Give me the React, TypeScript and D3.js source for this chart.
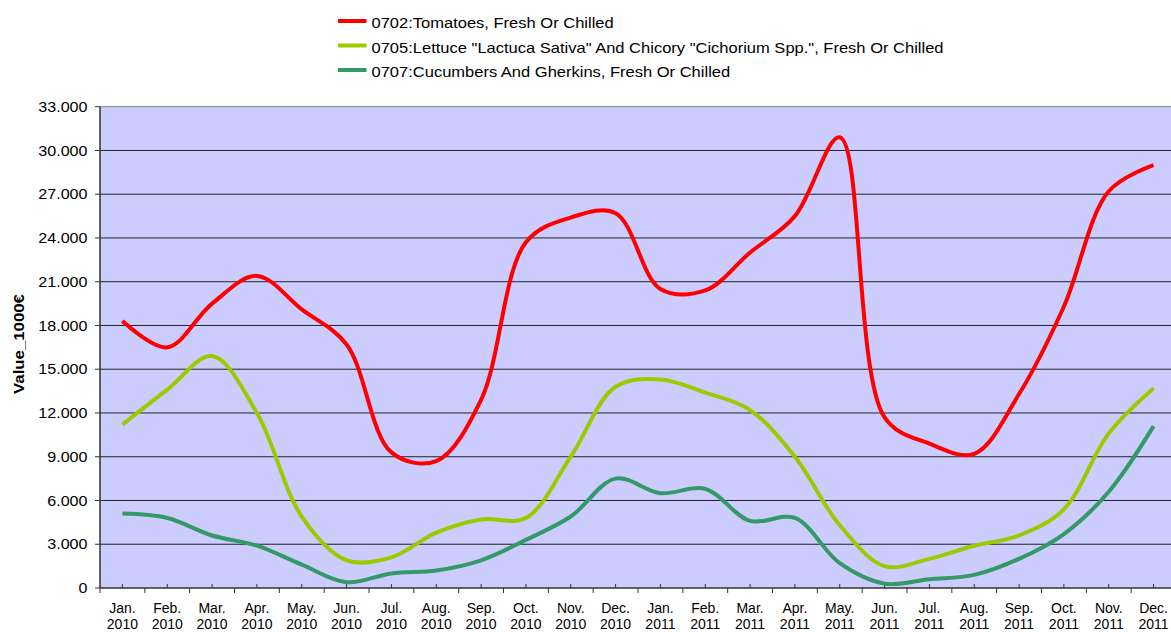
import React from "react"
import * as d3 from "d3"

const months = ["Jan.", "Feb.", "Mar.", "Apr.", "May.", "Jun.", "Jul.", "Aug.", "Sep.", "Oct.", "Nov.", "Dec."]
const years = ["2010", "2011"]
const categories = years.flatMap((y) => months.map((m) => `${m} ${y}`))

const tomatoes = [18300, 16500, 19500, 21400, 19100, 16700, 9300, 8700, 12900, 23700, 25400, 25700, 20500, 20400, 23000, 25500, 30900, 11700, 9900, 9200, 13300, 19300, 27200, 29000]
const lettuce = [11200, 13600, 15900, 12000, 4900, 1900, 2100, 3800, 4700, 4800, 9000, 13800, 14300, 13400, 12200, 9000, 4300, 1500, 2000, 2900, 3600, 5400, 10600, 13700]
const cucumbers = [5100, 4800, 3600, 2900, 1600, 400, 1000, 1200, 1900, 3300, 4900, 7500, 6500, 6800, 4600, 4800, 1700, 300, 600, 900, 2000, 3700, 6600, 11100]

const seriesNames = [
  "0702:Tomatoes, Fresh Or Chilled",
  "0705:Lettuce \"Lactuca Sativa\" And Chicory \"Cichorium Spp.\", Fresh Or Chilled",
  "0707:Cucumbers And Gherkins, Fresh Or Chilled",
]
const seriesColors = ["#ff0000", "#99cc00", "#339966"]
const yTicks = [0, 3000, 6000, 9000, 12000, 15000, 18000, 21000, 24000, 27000, 30000, 33000]

const W = 1171
const H = 632
const plot = { left: 100, right: 1176, top: 106.7, bottom: 588 }
const font = "'Liberation Sans', Arial, sans-serif"

const fmt = (v: number) => (v === 0 ? "0" : d3.format(",")(v).replace(/,/g, "."))

export default function App() {
  const x = d3.scaleBand<string>().domain(categories).range([plot.left, plot.right])
  const y = d3.scaleLinear().domain([0, 33000]).range([plot.bottom, plot.top])
  const cx = (i: number) => (x(categories[i]) || 0) + x.bandwidth() / 2

  const line = d3
    .line<number>()
    .x((_, i) => cx(i))
    .y((d) => y(d))
    .curve(d3.curveCatmullRom.alpha(0.5))

  const allSeries = [tomatoes, lettuce, cucumbers]

  return (
    <svg width={W} height={H} style={{ display: "block" }} fontFamily={font}>
      <style>{`body{margin:0}`}</style>
      <rect x={0} y={0} width={W} height={H} fill="#fff" />

      {/* legend */}
      {seriesNames.map((name, i) => (
        <g key={name} transform={`translate(338,${21 + i * 24.5})`}>
          <line x1={0} x2={28.5} y1={0} y2={0} stroke={seriesColors[i]} strokeWidth={4} />
          <g transform="translate(33.5,7.2) scale(1.18,1)">
            <text fontSize={14} fill="#000">
              {name}
            </text>
          </g>
        </g>
      ))}

      {/* plot area */}
      <rect x={plot.left} y={plot.top} width={plot.right - plot.left} height={plot.bottom - plot.top} fill="#ccccff" />
      {yTicks.map((t) => (
        <g key={t}>
          {t > 0 && (
            <line x1={plot.left} x2={plot.right} y1={y(t)} y2={y(t)} stroke={t === 33000 ? "#808080" : "#222"} strokeWidth={1} />
          )}
          <line x1={plot.left - 5} x2={plot.left} y1={y(t)} y2={y(t)} stroke="#333" />
          <g transform={`translate(${plot.left - 12.5},${y(t)}) scale(1.15,1)`}>
            <text dy="0.36em" textAnchor="end" fontSize={14} fill="#000">
              {fmt(t)}
            </text>
          </g>
        </g>
      ))}

      {/* axes */}
      <line x1={plot.left} x2={plot.left} y1={plot.top} y2={plot.bottom} stroke="#333" strokeWidth={1.5} />
      <line x1={plot.left} x2={plot.right} y1={plot.bottom} y2={plot.bottom} stroke="#333" strokeWidth={1.5} />
      {categories.map((c, i) => (
        <g key={c}>
          <line x1={x(c)} x2={x(c)} y1={plot.bottom} y2={plot.bottom + 5} stroke="#333" />
          <line x1={cx(i)} x2={cx(i)} y1={plot.bottom - 4} y2={plot.bottom} stroke="#333" />
          <text x={cx(i)} y={612.5} textAnchor="middle" fontSize={14} fill="#000">
            {c.split(" ")[0]}
          </text>
          <text x={cx(i)} y={628.5} textAnchor="middle" fontSize={14} fill="#000">
            {c.split(" ")[1]}
          </text>
        </g>
      ))}

      {/* series */}
      {allSeries.map((s, i) => (
        <path key={i} d={line(s) || ""} fill="none" stroke={seriesColors[i]} strokeWidth={4} strokeLinejoin="round" />
      ))}

      <g transform={`translate(24,344) rotate(-90) scale(1.2,1)`}>
        <text textAnchor="middle" fontSize={14} fontWeight="bold" fill="#000">
          Value_1000€
        </text>
      </g>
    </svg>
  )
}
